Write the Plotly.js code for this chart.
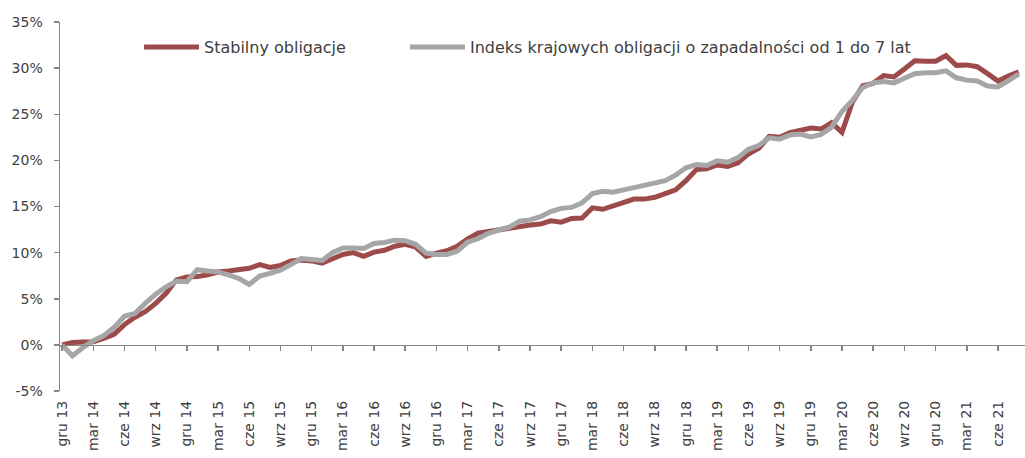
<!DOCTYPE html>
<html>
<head>
<meta charset="utf-8">
<script src="https://cdn.plot.ly/plotly-3.0.1.min.js"></script>
<style>html,body{margin:0;padding:0;background:#fff;}#chart{width:1025px;height:458px;}</style>
</head>
<body>
<div id="chart"></div>
<script>
const months = [
  "gru 13",
  "sty 14","lut 14","mar 14","kwi 14","maj 14","cze 14","lip 14","sie 14","wrz 14","paź 14","lis 14","gru 14",
  "sty 15","lut 15","mar 15","kwi 15","maj 15","cze 15","lip 15","sie 15","wrz 15","paź 15","lis 15","gru 15",
  "sty 16","lut 16","mar 16","kwi 16","maj 16","cze 16","lip 16","sie 16","wrz 16","paź 16","lis 16","gru 16",
  "sty 17","lut 17","mar 17","kwi 17","maj 17","cze 17","lip 17","sie 17","wrz 17","paź 17","lis 17","gru 17",
  "sty 18","lut 18","mar 18","kwi 18","maj 18","cze 18","lip 18","sie 18","wrz 18","paź 18","lis 18","gru 18",
  "sty 19","lut 19","mar 19","kwi 19","maj 19","cze 19","lip 19","sie 19","wrz 19","paź 19","lis 19","gru 19",
  "sty 20","lut 20","mar 20","kwi 20","maj 20","cze 20","lip 20","sie 20","wrz 20","paź 20","lis 20","gru 20",
  "sty 21","lut 21","mar 21","kwi 21","maj 21","cze 21","lip 21","sie 21"
];

const stabilny = [
  0.0,
  0.25,0.3,0.35,0.7,1.15,2.2,3.0,3.6,4.5,5.6,7.05,7.35,
  7.4,7.6,7.9,8.0,8.1,8.3,8.7,8.4,8.6,9.1,9.2,9.1,
  8.85,9.3,9.8,10.0,9.6,10.05,10.25,10.7,10.9,10.6,9.6,9.95,
  10.2,10.7,11.5,12.1,12.3,12.4,12.65,12.9,13.0,13.1,13.45,13.3,
  13.7,13.75,14.85,14.7,15.1,15.5,15.8,15.8,16.0,16.4,16.8,17.8,
  19.0,19.1,19.5,19.35,19.75,20.7,21.3,22.6,22.5,23.0,23.2,23.5,
  23.4,24.1,23.05,26.3,28.1,28.35,29.2,29.05,29.9,30.8,30.75,30.75,
  31.35,30.3,30.35,30.15,29.4,28.6,29.15,29.6
];

const indeks = [
  0.0,
  -1.2,-0.3,0.45,1.0,1.9,3.1,3.4,4.5,5.5,6.3,6.9,6.85,
  8.15,8.0,7.9,7.6,7.2,6.55,7.45,7.75,8.1,8.7,9.35,9.25,
  9.15,10.0,10.5,10.5,10.45,11.0,11.1,11.35,11.3,10.9,9.95,9.8,
  9.8,10.15,11.15,11.5,12.1,12.45,12.75,13.4,13.55,13.9,14.45,14.8,
  14.9,15.4,16.4,16.65,16.55,16.8,17.05,17.3,17.5,17.8,18.4,19.2,
  19.55,19.45,19.95,19.8,20.3,21.2,21.6,22.45,22.3,22.75,22.85,22.55,
  22.8,23.6,25.3,26.5,27.9,28.4,28.55,28.4,28.9,29.4,29.5,29.5,
  29.7,28.95,28.7,28.6,28.05,27.95,28.65,29.35
];

const seriesNames = ["Stabilny obligacje", "Indeks krajowych obligacji o zapadalności od 1 do 7 lat"];
const tickLabels = months.filter((m, i) => i % 3 === 0);
const yTickVals = [-5, 0, 5, 10, 15, 20, 25, 30, 35];
const yTickText = ["-5%", "0%", "5%", "10%", "15%", "20%", "25%", "30%", "35%"];

const FONT = "DejaVu Sans";
const TXT = "#404040";
const AX = "#868686";

const traces = [
  {x: months, y: stabilny, name: seriesNames[0], type: "scatter", mode: "lines",
   xaxis: "x", yaxis: "y", legend: "legend",
   line: {color: "#9c4a4a", width: 5}},
  {x: months, y: indeks, name: seriesNames[1], type: "scatter", mode: "lines",
   xaxis: "x2", yaxis: "y", legend: "legend2",
   line: {color: "#a6a6a6", width: 5}}
];

const catAxis = {
  type: "category", categoryorder: "array", categoryarray: months,
  range: [-0.2, 92.6], tickmode: "array", tickvals: tickLabels,
  showgrid: false, zeroline: false, fixedrange: true
};

const legendBase = {orientation: "h", xanchor: "left", y: 0.932, yanchor: "middle",
  font: {family: FONT, size: 16, color: TXT}, bgcolor: "rgba(0,0,0,0)", itemwidth: 55};

const layout = {
  width: 1025, height: 458,
  margin: {l: 60, r: 0, t: 22, b: 67},
  paper_bgcolor: "#ffffff", plot_bgcolor: "#ffffff",
  font: {family: FONT, size: 14, color: TXT},
  showlegend: true,
  legend: Object.assign({}, legendBase, {x: 0.0819}),
  legend2: Object.assign({}, legendBase, {x: 0.3575}),
  xaxis: Object.assign({}, catAxis, {
    ticks: "", showline: false, tickangle: -90, ticklabelstandoff: 6,
    tickfont: {family: FONT, size: 14, color: TXT}
  }),
  xaxis2: Object.assign({}, catAxis, {
    overlaying: "x", anchor: "free", position: 0.125, side: "bottom",
    showticklabels: false, ticks: "outside", ticklen: 5, tickwidth: 1.5, tickcolor: AX,
    showline: true, linecolor: AX, linewidth: 1.5
  }),
  yaxis: {
    range: [-5, 35], tickmode: "array", tickvals: yTickVals, ticktext: yTickText,
    showgrid: false, zeroline: false, showline: true, linecolor: AX, linewidth: 1.5,
    ticks: "outside", ticklen: 5, tickwidth: 1.5, tickcolor: AX, ticklabelstandoff: 8,
    tickfont: {family: FONT, size: 14, color: TXT}, fixedrange: true
  }
};

Plotly.newPlot("chart", traces, layout, {displayModeBar: false, staticPlot: true});
</script>
</body>
</html>
